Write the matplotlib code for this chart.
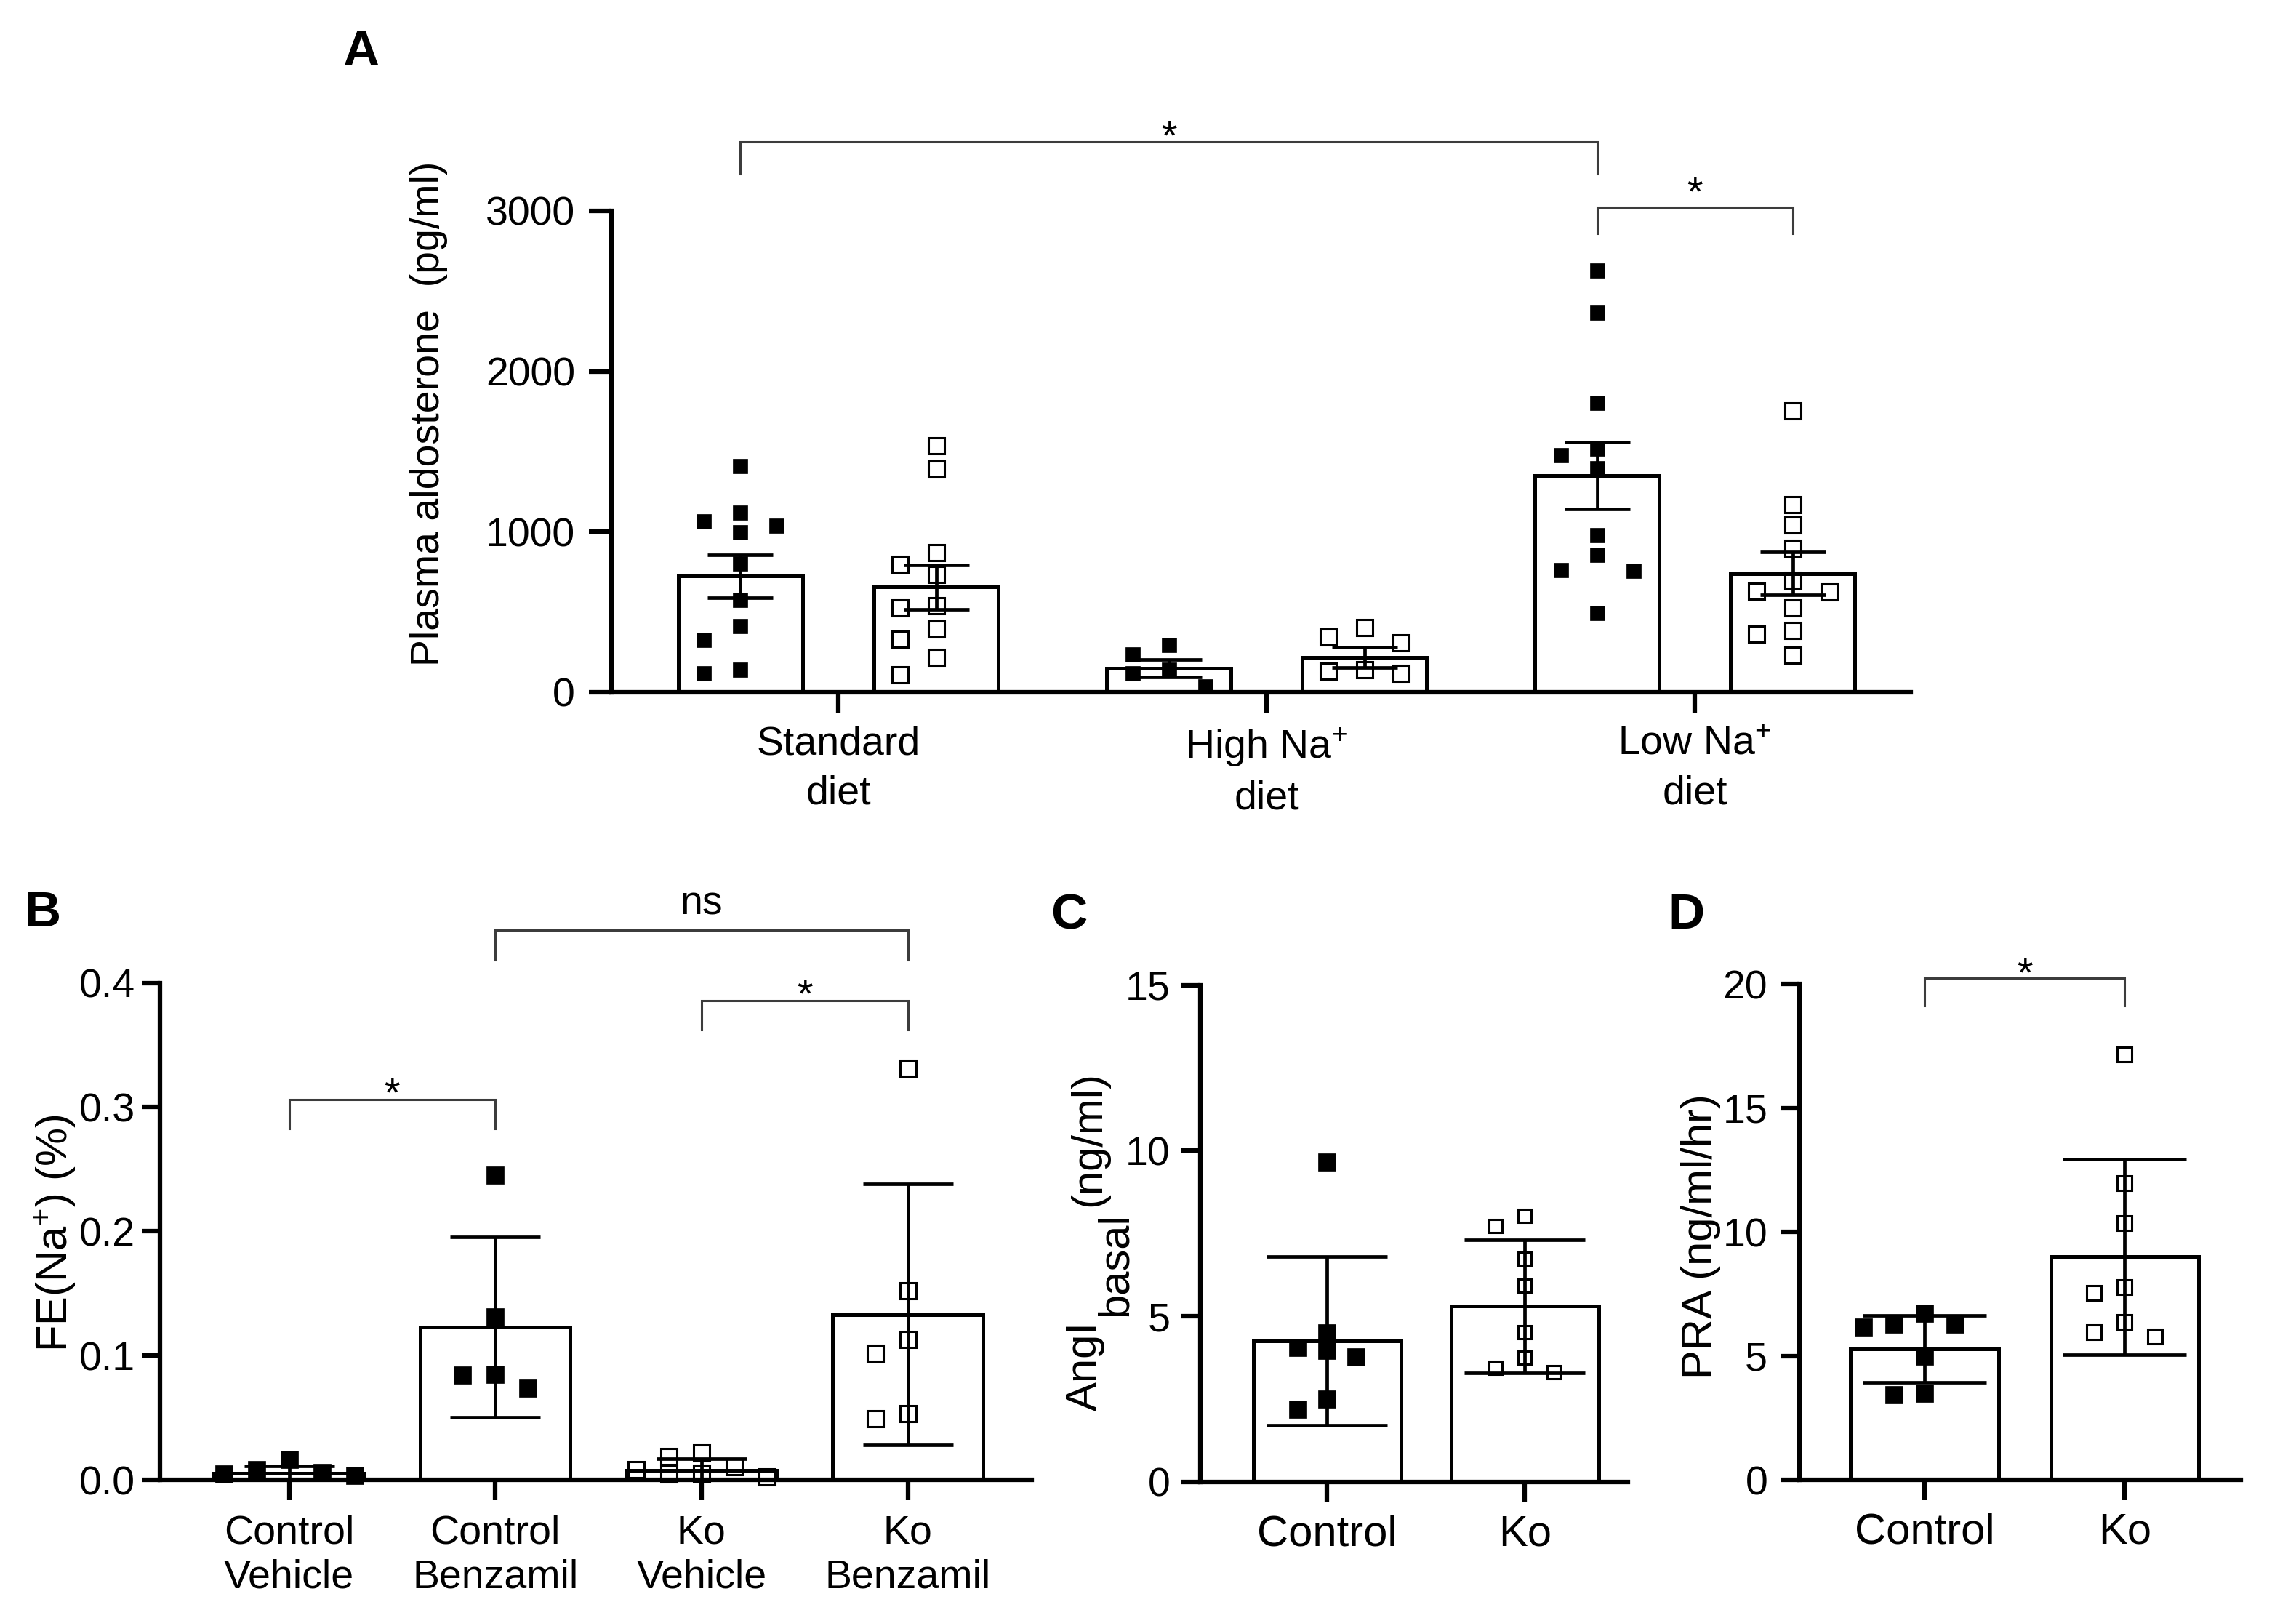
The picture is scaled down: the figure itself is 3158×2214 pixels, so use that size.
import numpy as np
import matplotlib
matplotlib.use('Agg')
import matplotlib.pyplot as plt
from matplotlib.ticker import FormatStrFormatter

plt.rcParams['font.family'] = ['Liberation Sans', 'DejaVu Sans']
plt.rcParams['mathtext.fontset'] = 'custom'
plt.rcParams['mathtext.rm'] = 'Liberation Sans'
plt.rcParams['mathtext.it'] = 'Liberation Sans:italic'
plt.rcParams['mathtext.bf'] = 'Liberation Sans:bold'

W, H = 3158, 2214

# ---------------- data ----------------
# A) plasma aldosterone (pg/ml), mean +- SEM
diets = ['Standard\ndiet', 'High Na$^{+}$\ndiet', 'Low Na$^{+}$\ndiet']
aldo_ctrl_mean = [723, 150, 1350]
aldo_ctrl_sem = [134, 55, 210]
aldo_ko_mean = [655, 218, 740]
aldo_ko_sem = [140, 65, 135]
aldo_ctrl_pts = [
    [1410, 1118, 1063, 1038, 995, 800, 575, 412, 326, 140, 118],
    [293, 237, 140, 117, 38],
    [2627, 2364, 1805, 1519, 1476, 1397, 979, 857, 763, 755, 495],
]
aldo_ko_pts = [
    [1538, 1392, 872, 796, 736, 540, 525, 392, 331, 216, 109],
    [404, 343, 309, 140, 130, 120],
    [1756, 1167, 1044, 897, 700, 632, 626, 524, 386, 363, 233],
]

# B) FE(Na+) (%), mean +- SD
fe_groups = ['Control\nVehicle', 'Control\nBenzamil', 'Ko\nVehicle', 'Ko\nBenzamil']
fe_mean = [0.0055, 0.123, 0.0075, 0.133]
fe_sd = [0.0055, 0.0725, 0.0093, 0.105]
fe_filled = [True, True, False, False]
fe_pts = [
    [0.0166, 0.0083, 0.006, 0.0047, 0.0038],
    [0.245, 0.131, 0.085, 0.084, 0.074],
    [0.0216, 0.0188, 0.0103, 0.008, 0.0055, 0.0047, 0.0026],
    [0.331, 0.152, 0.113, 0.102, 0.053, 0.049],
]

# C) AngI basal (ng/ml)
genotypes = ['Control', 'Ko']
ang_mean = [4.25, 5.3]
ang_sd = [2.55, 2.0]
ang_pts = [
    [9.66, 4.49, 4.05, 3.98, 3.78, 2.49, 2.2],
    [8.03, 7.72, 6.73, 5.93, 4.53, 3.75, 3.45, 3.32],
]

# D) PRA (ng/ml/hr)
pra_mean = [5.3, 9.0]
pra_sd = [1.35, 3.95]
pra_pts = [
    [6.71, 6.28, 6.28, 6.18, 5.0, 3.51, 3.44],
    [17.16, 11.97, 10.36, 7.77, 7.56, 6.38, 5.97, 5.79],
]

fig = plt.figure(figsize=(W / 100, H / 100), dpi=100)


def make_axes(left, right, bottom, top, xlim, ylim):
    ax = fig.add_axes([left / W, 1 - bottom / H, (right - left) / W, (bottom - top) / H])
    ax.set_xlim(*xlim)
    ax.set_ylim(*ylim)
    for s in ['top', 'right']:
        ax.spines[s].set_visible(False)
    for s in ['left', 'bottom']:
        ax.spines[s].set_linewidth(4.5)
    ax.tick_params(width=4.5, labelsize=40)
    return ax


def swarm(ax, x, vals, step_px, size_px):
    # simple beeswarm: greedy placement, highest values first
    vals = np.asarray(vals, float)
    ypix = ax.transData.transform(np.column_stack([np.full(len(vals), x), vals]))[:, 1]
    pxu = ax.transData.transform([[1, 0]])[0, 0] - ax.transData.transform([[0, 0]])[0, 0]
    placed = []
    offs = np.zeros(len(vals))
    for i in np.argsort(-ypix, kind='stable'):
        k = 0
        while True:
            cand = [0] if k == 0 else [-k, k]
            ok = None
            for c in cand:
                dx = c * step_px
                if all(abs(dx - pdx) >= size_px or abs(ypix[i] - py) >= size_px for pdx, py in placed):
                    ok = dx
                    break
            if ok is not None:
                break
            k += 1
        placed.append((ok, ypix[i]))
        offs[i] = ok / pxu
    return offs


def group(ax, x, mean, err, pts, filled, width, cap_px, ms, step_px, size_px):
    ax.bar(x, mean, width, color='white', edgecolor='black', linewidth=3.6, zorder=1)
    off = swarm(ax, x, pts, step_px, size_px)
    if filled:
        ax.plot(x + off, pts, 's', ms=ms, mfc='black', mec='black', mew=0.5,
                ls='none', zorder=3, clip_on=False)
    else:
        ax.plot(x + off, pts, 's', ms=ms, mfc='none', mec='black', mew=2.2,
                ls='none', zorder=3, clip_on=False)
    # capsize is half the cap length, in points
    ax.errorbar(x, mean, yerr=err, fmt='none', ecolor='black', elinewidth=3.4,
                capsize=cap_px * 0.72 / 2, capthick=3.4, zorder=4)


def bracket(ax, x1, x2, y, ylow, text, ytext):
    ax.plot([x1, x1, x2, x2], [ylow, y, y, ylow], color='#3c3c3c', lw=2.2,
            clip_on=False, solid_joinstyle='miter')
    ax.text((x1 + x2) / 2, ytext, text, ha='center', va='baseline', fontsize=40, clip_on=False)


# ---------------- A ----------------
axA = make_axes(841, 2628, 952, 290, (-0.5297, 2.504), (0, 3000))
dx, bw = 0.2284, 0.2903
for i in range(3):
    group(axA, i - dx, aldo_ctrl_mean[i], aldo_ctrl_sem[i], aldo_ctrl_pts[i], True, bw, 90, 15, 50, 23)
    group(axA, i + dx, aldo_ko_mean[i], aldo_ko_sem[i], aldo_ko_pts[i], False, bw, 90, 16, 50, 24)
axA.set_yticks([0, 1000, 2000, 3000])
axA.set_xticks(range(3))
axA.set_xticklabels(diets, linespacing=1.4)
axA.tick_params(axis='y', length=22, pad=14)
axA.tick_params(axis='x', length=21, pad=12)
axA.set_ylabel('Plasma aldosterone  (pg/ml)', fontsize=40, va='center')
axA.yaxis.set_label_coords(-0.1405, 0.5785)
bracket(axA, -dx, 2 - dx, 3432, 3233, '*', 3389)
bracket(axA, 2 - dx, 2 + dx, 3023, 2860, '*', 3038)

# ---------------- B ----------------
axB = make_axes(220, 1419, 2035, 1351.5, (-0.626, 3.601), (0, 0.4))
for i in range(4):
    group(axB, i, fe_mean[i], fe_sd[i], fe_pts[i], fe_filled[i], 0.727, 124,
          17 if fe_filled[i] else 15.5, 45, 24)
axB.set_yticks([0, 0.1, 0.2, 0.3, 0.4])
axB.yaxis.set_major_formatter(FormatStrFormatter('%.1f'))
axB.set_xticks(range(4))
axB.set_xticklabels(fe_groups, linespacing=1.22)
axB.tick_params(axis='y', length=18, pad=6.5)
axB.tick_params(axis='x', length=20, pad=14)
axB.set_ylabel('FE(Na$^{+}$) (%)', fontsize=43, va='center')
axB.yaxis.set_label_coords(-0.12, 0.496)
bracket(axB, 0, 1, 0.306, 0.2826, '*', 0.3014)
bracket(axB, 2, 3, 0.3856, 0.362, '*', 0.3806)
bracket(axB, 1, 3, 0.4424, 0.4186, 'ns', 0.4552)

# ---------------- C ----------------
axC = make_axes(1651, 2238.6, 2037.8, 1354.8, (-0.641, 1.519), (0, 15))
for i in range(2):
    group(axC, i, ang_mean[i], ang_sd[i], ang_pts[i], i == 0, 0.746, 166,
          17 if i == 0 else 12.6, 40, 22)
axC.set_yticks([0, 5, 10, 15])
axC.set_xticks(range(2))
axC.set_xticklabels(genotypes, fontsize=43)
axC.tick_params(axis='y', length=18.5, pad=11.5)
axC.tick_params(axis='x', length=20, pad=12)

# y label of C: "basal" is a full-size subscript
r = fig.canvas.get_renderer()
ypos = H - 1940.5
for s, shift in [('AngI', 0), ('basal', 42), ('(ng/ml)', 6)]:
    t = fig.text((1492 + shift) / W, ypos / H, s, rotation=90, ha='center', va='bottom', fontsize=43)
    ypos += t.get_window_extent(r).height + 8

# ---------------- D ----------------
axD = make_axes(2474.6, 3081.6, 2035.3, 1353.3, (-0.6265, 1.579), (0, 20))
for i in range(2):
    group(axD, i, pra_mean[i], pra_sd[i], pra_pts[i], i == 0, 0.738, 170,
          17 if i == 0 else 14.8, 42, 23)
axD.set_yticks([0, 5, 10, 15, 20])
axD.set_xticks(range(2))
axD.set_xticklabels(genotypes, fontsize=43)
axD.tick_params(axis='y', length=18.3, pad=13)
axD.tick_params(axis='x', length=20, pad=12)
axD.set_ylabel('PRA (ng/ml/hr)', fontsize=43, va='center')
axD.yaxis.set_label_coords(-0.222, 0.4922)
bracket(axD, 0, 1, 20.25, 19.12, '*', 19.94)

# panel letters
for lab, x, y in [('A', 496, 72), ('B', 58, 1256), ('C', 1470, 1259), ('D', 2319, 1259)]:
    fig.text(x / W, 1 - y / H, lab, fontsize=50, fontweight='bold', ha='center', va='center')

fig.savefig('out.png', dpi=100)
